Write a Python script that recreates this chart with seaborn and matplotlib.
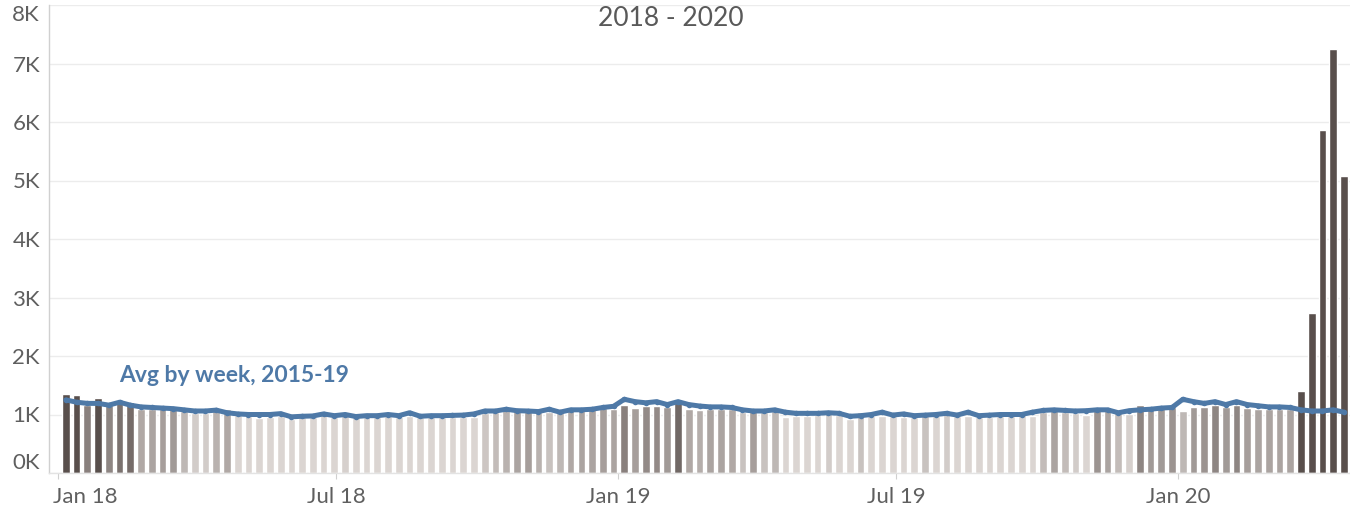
import numpy as np
import pandas as pd
import matplotlib
matplotlib.use("Agg")
import matplotlib.pyplot as plt
import matplotlib.dates as mdates
import matplotlib.transforms as mtransforms
from matplotlib.colors import LinearSegmentedColormap, to_hex
import seaborn as sns

# ---------------- data ----------------
first_week_end = "2018-01-06"
n_weeks = 120

weekly_deaths = [
    1350, 1330, 1170, 1280, 1160, 1200, 1210, 1090, 1100, 1110,
    1120, 1060, 1020, 1020, 1070, 1090, 1000, 970, 945, 960,
    970, 930, 950, 960, 1000, 960, 1010, 960, 960, 960,
    970, 960, 970, 960, 950, 950, 950, 950, 960, 1030,
    1050, 1070, 1100, 1110, 1070, 1040, 1060, 1090, 1100, 1100,
    1110, 1100, 1170, 1110, 1150, 1150, 1120, 1220, 1090, 1080,
    1100, 1100, 1090, 1040, 1110, 1040, 1060, 960, 970, 970,
    1000, 1020, 1000, 920, 1040, 970, 970, 970, 960, 960,
    1040, 980, 1020, 970, 970, 960, 960, 970, 970, 1000,
    980, 1050, 1100, 1050, 1020, 1000, 1130, 1100, 1050, 1010,
    1160, 1120, 1120, 1130, 1060, 1120, 1130, 1160, 1120, 1160,
    1110, 1100, 1100, 1100, 1100, 1410, 2730, 5860, 7250, 5080,
]

avg_2015_19 = [
    1250, 1210, 1190, 1190, 1160, 1210, 1160, 1130, 1120, 1110,
    1100, 1080, 1060, 1060, 1075, 1030, 1010, 1000, 1000, 1000,
    1015, 960, 970, 975, 1010, 980, 1000, 965, 980, 980,
    1000, 980, 1030, 970, 980, 980, 985, 990, 1010, 1060,
    1060, 1090, 1065, 1060, 1050, 1090, 1040, 1080, 1080, 1090,
    1120, 1140,
    1260, 1220, 1200, 1220, 1170, 1220, 1170, 1145, 1130, 1130,
    1120, 1080, 1060, 1060, 1080, 1040, 1020, 1020, 1020, 1030,
    1020, 970, 980, 1000, 1040, 990, 1010, 980, 990, 1000,
    1020, 990, 1040, 980, 990, 1000, 1000, 1000, 1040, 1070,
    1080, 1070, 1060, 1065, 1080, 1080, 1030, 1065, 1080, 1090,
    1110, 1120, 1260, 1220, 1190, 1220, 1170, 1220, 1170, 1150,
    1130, 1130, 1120, 1080, 1060, 1060, 1080, 1040,
]

y_ticks = [0, 1000, 2000, 3000, 4000, 5000, 6000, 7000, 8000]
y_tick_labels = ["0K", "1K", "2K", "3K", "4K", "5K", "6K", "7K", "8K"]
x_tick_dates = ["2018-01-01", "2018-07-01", "2019-01-01", "2019-07-01", "2020-01-01"]
x_tick_labels = ["Jan 18", "Jul 18", "Jan 19", "Jul 19", "Jan 20"]
title = "2018 - 2020"
line_label = "Avg by week, 2015-19"

# ---------------- frame ----------------
week_end = pd.date_range(first_week_end, periods=n_weeks, freq="7D")
df = pd.DataFrame({
    "x": mdates.date2num(week_end),
    "week": week_end.strftime("%Y-%m-%d"),
    "deaths": weekly_deaths,
    "avg": avg_2015_19,
})

cmap = LinearSegmentedColormap.from_list("tb", ["#dbd5d2", "#594f4c"])
shade = np.clip((df["deaths"].to_numpy() - 1000) / 270.0, 0, 1)
palette = {w: to_hex(cmap(s)) for w, s in zip(df["week"], shade)}

sns.set_theme(style="white")
plt.rcParams["font.family"] = ["Lato", "DejaVu Sans"]

fig = plt.figure(figsize=(13.5, 5.05), dpi=100)
ax = fig.add_axes([49 / 1350, 32 / 505, 1301 / 1350, 468 / 505])

sns.barplot(data=df, x="x", y="deaths", hue="week", palette=palette,
            native_scale=True, width=0.72, saturation=1, dodge=False,
            errorbar=None, legend=False, ax=ax, zorder=2)
sns.lineplot(data=df, x="x", y="avg", color="#4e79a7", linewidth=3.6,
             marker="o", markersize=4, markeredgewidth=0, ax=ax, zorder=3)

ax.set_xlim(mdates.date2num(pd.Timestamp("2017-12-26")),
            mdates.date2num(pd.Timestamp("2020-04-22")))
ax.set_ylim(0, 8000)

ax.set_yticks(y_ticks)
ax.set_yticklabels(y_tick_labels)
ax.set_xticks(mdates.date2num(pd.to_datetime(x_tick_dates)))
ax.set_xticklabels(x_tick_labels)
ax.set_xlabel("")
ax.set_ylabel("")

ax.yaxis.grid(True, color="#ececec", linewidth=1)
ax.xaxis.grid(False)
ax.set_axisbelow(True)

for s in ["top", "right"]:
    ax.spines[s].set_visible(False)
ax.spines["left"].set_color("#d0d0d0")
ax.spines["left"].set_linewidth(1)
ax.spines["bottom"].set_color("#e3e3e3")
ax.spines["bottom"].set_linewidth(1)

ax.tick_params(axis="y", length=0, pad=6.5, labelsize=16, labelcolor="#5f5f5f")
ax.tick_params(axis="x", length=4, width=0.8, color="#d0d0d0", pad=6,
               labelsize=16, labelcolor="#5f5f5f", bottom=True)

ylabs = ax.get_yticklabels()
ylabs[0].set_va("bottom")
ylabs[-1].set_va("top")
xlabs = ax.get_xticklabels()
xlabs[0].set_ha("left")
xlabs[0].set_transform(xlabs[0].get_transform() +
                       mtransforms.ScaledTranslation(-5 / 100, 0, fig.dpi_scale_trans))

ax.text(mdates.date2num(pd.Timestamp("2018-02-10")), 1660, line_label,
        fontsize=16.5, fontweight="bold", color="#4e79a7", va="center", ha="left")

fig.text(671 / 1350, 1 - 18 / 505, title, ha="center", va="center",
         fontsize=19, color="#595959")

fig.savefig("out.png", dpi=100)
